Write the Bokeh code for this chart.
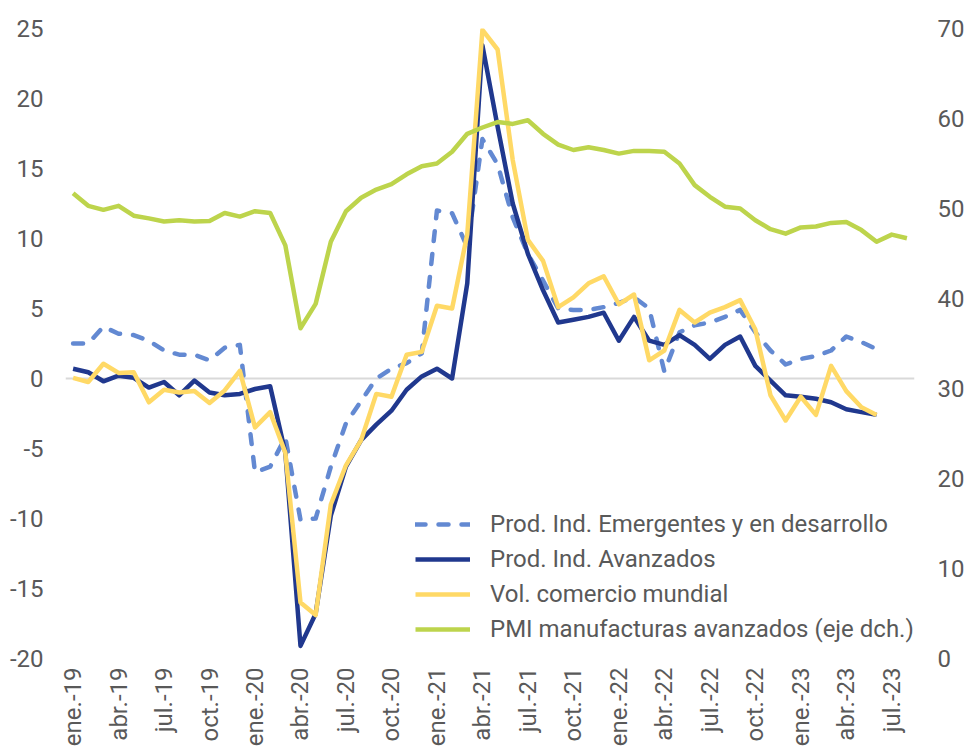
import math
from bokeh.plotting import figure
from bokeh.models import (Range1d, LinearAxis, FixedTicker, Span, Legend,
                          LegendItem)
from bokeh.embed import file_html
from bokeh.resources import INLINE

# ---------------- data ----------------
month_names = ["ene.", "feb.", "mar.", "abr.", "may.", "jun.",
               "jul.", "ago.", "sep.", "oct.", "nov.", "dic."]
years = ["19", "20", "21", "22", "23"]
months = [f"{m}-{y}" for y in years for m in month_names][:56]

emergentes = [2.5, 2.5, 3.7, 3.2, 3.1, 2.7, 2.0, 1.7, 1.7, 1.3, 2.2, 2.4,
              -6.7, -6.3, -4.2, -10.1, -10.0, -6.3, -3.2, -1.6, 0.0, 0.7,
              1.1, 1.8, 12.0, 11.8, 9.4, 17.1, 15.3, 11.5, 8.9, 7.0, 5.0,
              4.9, 4.9, 5.1, 5.4, 5.8, 5.0, 0.5, 3.3, 3.8, 4.0, 4.4, 4.9,
              3.3, 2.0, 1.0, 1.4, 1.6, 2.0, 3.0, 2.6, 2.1]
avanzados = [0.7, 0.45, -0.2, 0.2, 0.05, -0.65, -0.25, -1.2, -0.15, -1.0,
             -1.2, -1.1, -0.75, -0.55, -5.3, -19.1, -16.8, -9.8, -6.3, -4.4,
             -3.3, -2.3, -0.8, 0.15, 0.7, 0.0, 6.8, 23.8, 18.0, 12.5, 8.9,
             6.3, 4.0, 4.2, 4.4, 4.7, 2.7, 4.4, 2.7, 2.4, 3.1, 2.4, 1.4, 2.4,
             3.0, 0.9, -0.15, -1.2, -1.3, -1.45, -1.7, -2.2, -2.4, -2.6]
comercio = [0.05, -0.25, 1.05, 0.4, 0.45, -1.7, -0.8, -1.0, -0.9, -1.75,
            -0.85, 0.55, -3.5, -2.4, -5.3, -16.0, -16.9, -9.0, -6.2, -4.4,
            -1.1, -1.3, 1.7, 1.9, 5.2, 5.0, 10.3, 24.9, 23.5, 15.6, 9.9, 8.4,
            5.1, 5.8, 6.8, 7.3, 5.3, 6.0, 1.3, 2.0, 4.9, 4.0, 4.7, 5.1, 5.6,
            3.5, -1.2, -3.0, -1.3, -2.6, 0.9, -0.9, -2.05, -2.6]
pmi = [51.7, 50.3, 49.85, 50.3, 49.2, 48.9, 48.55, 48.7, 48.55, 48.6, 49.5,
       49.1, 49.7, 49.5, 45.9, 36.7, 39.4, 46.3, 49.7, 51.2, 52.1, 52.7,
       53.8, 54.7, 55.0, 56.3, 58.3, 59.0, 59.6, 59.4, 59.8, 58.3, 57.1,
       56.5, 56.8, 56.5, 56.1, 56.4, 56.4, 56.3, 55.0, 52.6, 51.3, 50.2,
       50.0, 48.7, 47.7, 47.2, 47.9, 48.0, 48.4, 48.5, 47.6, 46.3, 47.1, 46.7]

left_ticks = [-20, -15, -10, -5, 0, 5, 10, 15, 20, 25]
right_ticks = [0, 10, 20, 30, 40, 50, 60, 70]

series_names = ["Prod. Ind. Emergentes y en desarrollo",
                "Prod. Ind. Avanzados",
                "Vol. comercio mundial",
                "PMI manufacturas avanzados (eje dch.)"]

# ---------------- figure ----------------
FONT = "Roboto"
TXT = "#595959"

p = figure(width=967, height=750, x_range=Range1d(-0.5, 55.5),
           y_range=Range1d(-20, 25), output_backend="svg",
           toolbar_location=None, min_border_left=65, min_border_right=51,
           min_border_top=28, min_border_bottom=92)
p.extra_y_ranges = {"right": Range1d(0, 70)}
p.outline_line_color = None
p.xgrid.visible = False
p.ygrid.visible = False
p.background_fill_color = "white"
p.border_fill_color = "white"

zero = Span(location=0, dimension="width", line_color="#d9d9d9",
            line_width=2, level="underlay")
p.add_layout(zero)

x_all = list(range(len(pmi)))
x_m = list(range(len(emergentes)))

r_em = p.line(x_m, emergentes, line_color="#6389d2", line_width=4.5,
              line_dash="10 13", line_cap="round", line_join="round")
r_av = p.line(x_m, avanzados, line_color="#20388e", line_width=4.5,
              line_join="round")
r_co = p.line(x_m, comercio, line_color="#ffd966", line_width=4.5,
              line_join="round")
r_pm = p.line(x_all, pmi, line_color="#bdd44c", line_width=4.5,
              line_join="round", y_range_name="right")

# axes
xa = p.xaxis[0]
xa.ticker = FixedTicker(ticks=list(range(0, len(months), 3)))
xa.major_label_overrides = {i: months[i] for i in range(0, len(months), 3)}
xa.major_label_orientation = math.pi / 2
xa.major_label_standoff = 9
xa.major_label_text_font_size = "24px"

ya = p.yaxis[0]
ya.ticker = FixedTicker(ticks=left_ticks)
ya.major_label_overrides = {t: str(t) for t in left_ticks}
ya.major_label_standoff = 22
ya.major_label_text_font_size = "24px"

ra = LinearAxis(y_range_name="right", ticker=FixedTicker(ticks=right_ticks))
ra.major_label_overrides = {t: str(t) for t in right_ticks}
ra.major_label_standoff = 23
ra.major_label_text_font_size = "24px"
p.add_layout(ra, "right")

for ax in [xa, ya, ra]:
    ax.axis_line_color = None
    ax.major_tick_line_color = None
    ax.minor_tick_line_color = None
    ax.major_tick_out = 0
    ax.major_tick_in = 0
    ax.minor_tick_out = 0
    ax.minor_tick_in = 0
    ax.axis_label = None
    ax.axis_label_standoff = 0
    ax.major_label_text_font = FONT
    ax.major_label_text_color = TXT

legend = Legend(items=[LegendItem(label=series_names[0], renderers=[r_em]),
                       LegendItem(label=series_names[1], renderers=[r_av]),
                       LegendItem(label=series_names[2], renderers=[r_co]),
                       LegendItem(label=series_names[3], renderers=[r_pm])],
                location=(350, 15), orientation="vertical")
legend.background_fill_alpha = 0
legend.border_line_color = None
legend.padding = 0
legend.margin = 0
legend.glyph_width = 55
legend.glyph_height = 24
legend.label_height = 24
legend.spacing = 7
legend.label_standoff = 20
legend.label_text_font = FONT
legend.label_text_font_size = "24px"
legend.label_text_color = TXT
p.add_layout(legend, "center")

open("out.html", "w").write(file_html(p, INLINE))
